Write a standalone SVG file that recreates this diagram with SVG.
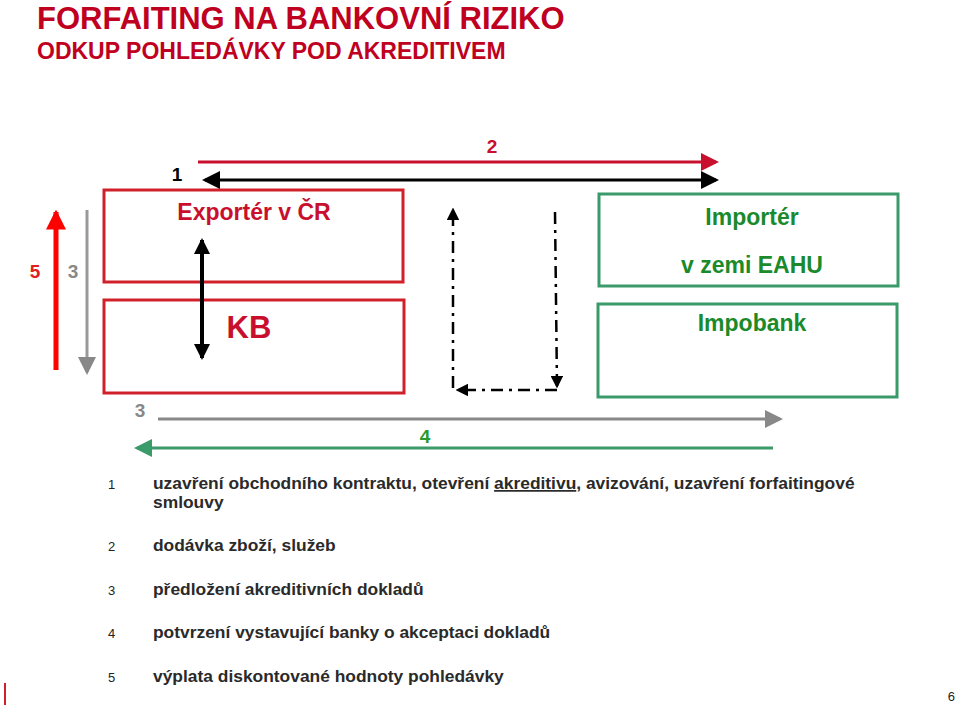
<svg xmlns="http://www.w3.org/2000/svg" width="959" height="709" viewBox="0 0 959 709">
<style>
text{font-family:"Liberation Sans",Arial,sans-serif}
.ttl{fill:#c00020;font-weight:bold}
.rb{fill:none;stroke:#d0202a;stroke-width:3}
.gb{fill:none;stroke:#3a9a6a;stroke-width:3}
.leg{font-size:17.4px;font-weight:bold;fill:#2a2a2a}
.num{font-size:13px;fill:#222}
.dd{stroke:#000;stroke-width:2.5;stroke-dasharray:12,6,3,6;fill:none}
</style>
<defs>
<marker id="aBk" markerWidth="6" markerHeight="6" refX="5" refY="3" orient="auto-start-reverse" markerUnits="strokeWidth"><path d="M0,0L6,3L0,6z" fill="#000"/></marker>
<marker id="aBk2" markerWidth="4" markerHeight="4" refX="3.5" refY="2" orient="auto-start-reverse" markerUnits="strokeWidth"><path d="M0,0L4,2L0,4z" fill="#000"/></marker>
<marker id="aCr" markerWidth="6" markerHeight="6" refX="5" refY="3" orient="auto" markerUnits="strokeWidth"><path d="M0,0L6,3L0,6z" fill="#c8102e"/></marker>
<marker id="aRd" markerWidth="4" markerHeight="4" refX="3.5" refY="2" orient="auto" markerUnits="strokeWidth"><path d="M0,0L4,2L0,4z" fill="#f00"/></marker>
<marker id="aGy" markerWidth="6" markerHeight="6" refX="5" refY="3" orient="auto" markerUnits="strokeWidth"><path d="M0,0L6,3L0,6z" fill="#888"/></marker>
<marker id="aGn" markerWidth="6" markerHeight="6" refX="5" refY="3" orient="auto" markerUnits="strokeWidth"><path d="M0,0L6,3L0,6z" fill="#3a9a6a"/></marker>
<marker id="aD" markerWidth="5" markerHeight="5" refX="4" refY="2.5" orient="auto" markerUnits="strokeWidth"><path d="M0,0L5,2.5L0,5z" fill="#000"/></marker>
</defs>
<text x="37" y="29" class="ttl" font-size="31">FORFAITING NA BANKOVNÍ RIZIKO</text>
<text x="37" y="59" class="ttl" font-size="23">ODKUP POHLEDÁVKY POD AKREDITIVEM</text>

<g id="exporter"><rect x="104" y="190" width="299" height="92" class="rb"/><text x="254" y="220" text-anchor="middle" font-size="23" font-weight="bold" fill="#c8102e">Exportér v ČR</text></g>
<g id="kb"><rect x="104" y="300" width="300" height="93" class="rb"/><text x="249" y="338" text-anchor="middle" font-size="31" font-weight="bold" fill="#c8102e">KB</text></g>
<g id="importer"><rect x="599" y="194" width="299" height="92" class="gb"/><text x="752" y="225" text-anchor="middle" font-size="23" font-weight="bold" fill="#1a8a2a">Importér</text><text x="752" y="273" text-anchor="middle" font-size="23" font-weight="bold" fill="#1a8a2a">v zemi EAHU</text></g>
<g id="impobank"><rect x="598" y="304" width="299" height="93" class="gb"/><text x="752" y="331" text-anchor="middle" font-size="23" font-weight="bold" fill="#1a8a2a">Impobank</text></g>

<g id="connectors">
<line x1="198" y1="162" x2="716" y2="162" stroke="#c8102e" stroke-width="3" marker-end="url(#aCr)"/>
<line x1="205" y1="180" x2="716" y2="180" stroke="#000" stroke-width="3" marker-start="url(#aBk)" marker-end="url(#aBk)"/>
<line x1="56" y1="370" x2="56" y2="212" stroke="#f00" stroke-width="5" marker-end="url(#aRd)"/>
<line x1="87" y1="210" x2="87" y2="372" stroke="#999" stroke-width="3" marker-end="url(#aGy)"/>
<line x1="202" y1="240" x2="202" y2="358" stroke="#000" stroke-width="4" marker-start="url(#aBk2)" marker-end="url(#aBk2)"/>
<line x1="453" y1="388" x2="453" y2="210" class="dd" marker-end="url(#aD)"/>
<line x1="555" y1="212" x2="557" y2="386" class="dd" marker-end="url(#aD)"/>
<line x1="557" y1="390" x2="458" y2="390" class="dd" marker-end="url(#aD)"/>
<line x1="158" y1="419" x2="780" y2="419" stroke="#888" stroke-width="3" marker-end="url(#aGy)"/>
<line x1="773" y1="448" x2="137" y2="448" stroke="#3a9a6a" stroke-width="3" marker-end="url(#aGn)"/>
</g>

<g font-size="19" font-weight="bold">
<text x="35" y="278" text-anchor="middle" fill="#e02020">5</text>
<text x="73" y="278" text-anchor="middle" fill="#888">3</text>
<text x="140" y="417" text-anchor="middle" fill="#888">3</text>
<text x="425" y="443" text-anchor="middle" fill="#2a9a2a">4</text>
<text x="177" y="181" text-anchor="middle" fill="#000">1</text>
<text x="492" y="153" text-anchor="middle" fill="#c8102e">2</text>
</g>

<g id="legend">
<text x="108" y="489" class="num">1</text>
<text x="153" y="489" class="leg">uzavření obchodního kontraktu, otevření <tspan text-decoration="underline">akreditivu</tspan>, avizování, uzavření forfaitingové</text>
<text x="153" y="508" class="leg">smlouvy</text>
<text x="108" y="551" class="num">2</text><text x="153" y="551" class="leg">dodávka zboží, služeb</text>
<text x="108" y="595" class="num">3</text><text x="153" y="595" class="leg">předložení akreditivních dokladů</text>
<text x="108" y="638" class="num">4</text><text x="153" y="638" class="leg">potvrzení vystavující banky o akceptaci dokladů</text>
<text x="108" y="682" class="num">5</text><text x="153" y="682" class="leg">výplata diskontované hodnoty pohledávky</text>
</g>
<line x1="5" y1="683" x2="5" y2="705" stroke="#d0202a" stroke-width="2"/>
<text x="955" y="701" text-anchor="end" font-size="13" fill="#222">6</text>
</svg>
